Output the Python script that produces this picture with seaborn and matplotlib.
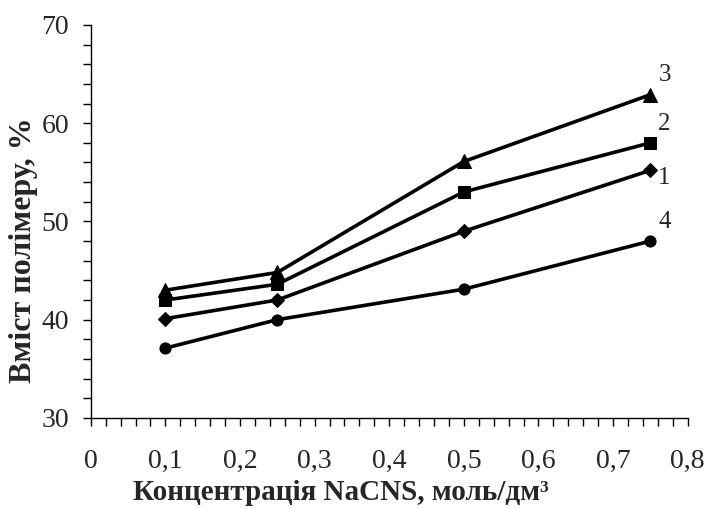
import matplotlib
matplotlib.use("Agg")
import matplotlib.pyplot as plt
import numpy as np
import pandas as pd
import seaborn as sns
from matplotlib.ticker import FuncFormatter, MultipleLocator

concentration = [0.1, 0.25, 0.5, 0.75]
series_names = ["1", "2", "3", "4"]
series_1 = [40.1, 42.0, 49.0, 55.2]
series_2 = [42.0, 43.6, 53.0, 58.0]
series_3 = [43.0, 44.8, 56.1, 62.9]
series_4 = [37.1, 40.0, 43.1, 48.0]
# curve numbers written next to the last point
label_x = [0.769, 0.769, 0.769, 0.769]
label_y = [54.4, 59.9, 64.9, 49.9]

markers = {"1": "D", "2": "s", "3": "^", "4": "o"}
marker_sizes = {"1": 7, "2": 8, "3": 9.5, "4": 8}

df = pd.DataFrame({
    "x": concentration * 4,
    "y": series_1 + series_2 + series_3 + series_4,
    "series": np.repeat(series_names, len(concentration)),
})

sns.set_style("white")
plt.rcParams["font.family"] = ["Liberation Serif", "DejaVu Serif"]

fig = plt.figure(figsize=(7.09, 5.09), dpi=100)
ax = fig.add_axes([0.128, 0.179, 0.842, 0.772])

for i, name in enumerate(series_names):
    sub = df[df["series"] == name]
    sns.lineplot(data=sub, x="x", y="y", ax=ax, color="black", linewidth=2.6,
                 marker=markers[name], markersize=marker_sizes[name],
                 markeredgecolor="black", markerfacecolor="black", legend=False)
    ax.text(label_x[i], label_y[i], name, fontsize=18, ha="center", va="center")

ax.set_xlim(0, 0.8)
ax.set_ylim(30, 70)
ax.xaxis.set_major_locator(MultipleLocator(0.1))
ax.xaxis.set_minor_locator(MultipleLocator(0.02))
ax.yaxis.set_major_locator(MultipleLocator(10))
ax.yaxis.set_minor_locator(MultipleLocator(2))
ax.xaxis.set_major_formatter(FuncFormatter(lambda v, p: ("%g" % round(v, 2)).replace(".", ",")))

for side in ["top", "right"]:
    ax.spines[side].set_visible(False)
for side in ["left", "bottom"]:
    ax.spines[side].set_color("black")
    ax.spines[side].set_linewidth(1.0)

ax.tick_params(which="both", direction="out", color="black", width=1.0,
               bottom=True, left=True)
ax.tick_params(which="both", length=5.5)
ax.tick_params(which="major", labelsize=20)
ax.tick_params(axis="x", which="major", pad=17)
ax.tick_params(axis="y", which="major", pad=10)

ax.set_xlabel("Концентрація NaCNS, моль/дм³", fontsize=21, fontweight="bold")
ax.xaxis.set_label_coords(0.419, -0.155)
ax.set_ylabel("Вміст полімеру, %", fontsize=23, fontweight="bold")
ax.yaxis.set_label_coords(-0.088, 0.427)
ax.grid(False)

fig.savefig("out.png", dpi=100)
